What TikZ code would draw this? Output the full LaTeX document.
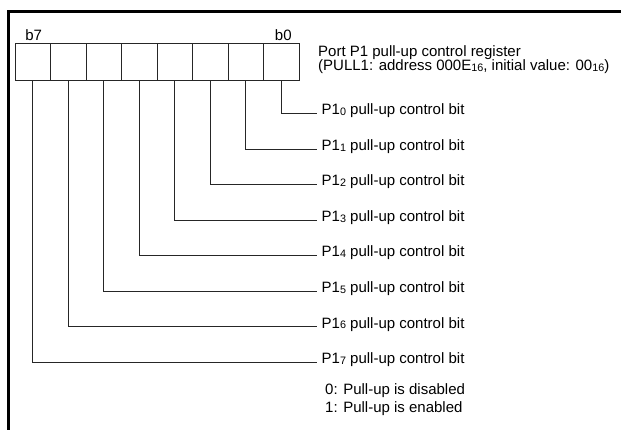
\documentclass[tikz,border=0pt]{standalone}
\usepackage{fontspec}
\setmainfont{Liberation Sans}
\usetikzlibrary{positioning}

% small digits after a port name
\newcommand{\pnum}[1]{\raisebox{-0.6pt}{\fontsize{10.8}{10.8}\selectfont #1}}

\begin{document}
\begin{tikzpicture}[
  x=1pt,y=-1pt,
  bitcell/.style={draw=black!85,line width=0.8pt,minimum width=35.5pt,minimum height=37pt,inner sep=0pt},
  bitlabel/.style={anchor=base west,inner sep=0pt,font=\fontsize{15}{16}\selectfont},
  every edge/.style={draw=black!85,line width=0.8pt},
]
  \useasboundingbox (0,0) rectangle (621,430);

  % Frame
  \draw[line width=3.3pt] (8.3,430) |- (621,11.7);

  % Register cells, b0 on the right
  \foreach \i in {0,...,7}
    \node[bitcell] (c\i) at ({281.25-35.5*\i},61.5) {};
  \node[bitlabel,anchor=base] (b7) at ([yshift=2.5pt,xshift=1pt]c7.north) {b7};
  \node[bitlabel,anchor=base] (b0) at ([yshift=2.5pt,xshift=2pt]c0.north) {b0};

  % Register name
  \node[bitlabel,anchor=west,align=left,font=\fontsize{15}{14.5}\selectfont] (title) at (318,59.5)
    {Port P1 pull-up control register\\(PULL1: address 000E\pnum{16}, initial value: 00\pnum{16})};

  % Bit lines and their names
  \foreach \i in {0,...,7} {
    \coordinate (e\i) at (316.5,{113.5+35.5*\i});
    \node[bitlabel] (p\i) at (321.5,{115+35.5*\i}) {P1\pnum{\i} pull-up control bit};
    \path (c\i.south) edge[to path={|- (\tikztotarget)}] (e\i);
  }

  % Values
  \node[bitlabel,anchor=west,align=left,font=\fontsize{15}{18}\selectfont] (values) at (325,399.6)
    {0: Pull-up is disabled\\1: Pull-up is enabled};
\end{tikzpicture}
\end{document}
